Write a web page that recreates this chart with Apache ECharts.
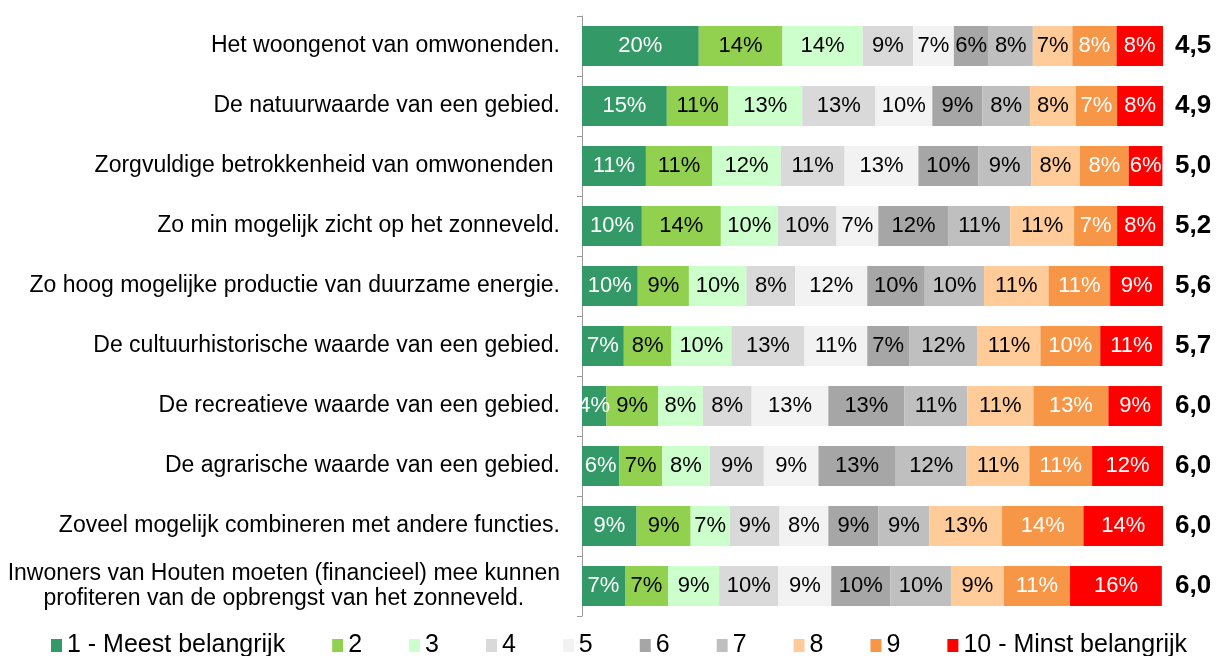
<!DOCTYPE html>
<html>
<head>
<meta charset="utf-8">
<title>Belang van aspecten zonneveld</title>
<script src="https://cdn.jsdelivr.net/npm/echarts@6/dist/echarts.min.js"></script>
<style>
    html, body { margin: 0; padding: 0; background: #fff; }
    #chart { width: 1217px; height: 656px; }
</style>
</head>
<body>
<div id="chart"></div>
<script>
    // stellingen (van boven naar beneden)
    const categories = [
        'Het woongenot van omwonenden.',
        'De natuurwaarde van een gebied.',
        'Zorgvuldige betrokkenheid van omwonenden ',
        'Zo min mogelijk zicht op het zonneveld.',
        'Zo hoog mogelijke productie van duurzame energie.',
        'De cultuurhistorische waarde van een gebied.',
        'De recreatieve waarde van een gebied.',
        'De agrarische waarde van een gebied.',
        'Zoveel mogelijk combineren met andere functies.',
        'Inwoners van Houten moeten (financieel) mee kunnen\nprofiteren van de opbrengst van het zonneveld.'
    ];
    // gemiddelde score
    const scores = ['4,5', '4,9', '5,0', '5,2', '5,6', '5,7', '6,0', '6,0', '6,0', '6,0'];

    const seriesNames = ['1 - Meest belangrijk', '2', '3', '4', '5', '6', '7', '8', '9', '10 - Minst belangrijk'];
    const colors = ['#339966', '#92D050', '#CCFFCC', '#D9D9D9', '#F2F2F2', '#A6A6A6', '#BFBFBF', '#FFCC99', '#F79646', '#FF0000'];
    const labelColors = ['#fff', '#000', '#000', '#000', '#000', '#000', '#000', '#000', '#fff', '#fff'];

    // percentages per score (1 t/m 10), per stelling
    const v1 = [20.1, 14.6, 11.0, 10.3, 9.6, 7.2, 4.2, 6.4, 9.4, 7.4];
    const v2 = [14.4, 10.6, 11.4, 13.6, 8.8, 8.2, 8.9, 7.4, 9.3, 7.4];
    const v3 = [13.8, 12.7, 11.8, 9.8, 9.9, 10.3, 7.7, 8.2, 6.7, 8.8];
    const v4 = [8.7, 12.6, 11.0, 10.1, 8.4, 12.6, 8.4, 9.3, 8.6, 10.2];
    const v5 = [7.0, 9.8, 12.7, 7.2, 12.4, 10.8, 13.2, 9.4, 8.4, 9.1];
    const v6 = [6.0, 8.6, 10.3, 12.1, 9.9, 7.2, 13.1, 13.3, 8.6, 10.2];
    const v7 = [7.6, 8.2, 9.1, 10.6, 10.2, 11.8, 10.8, 12.2, 8.8, 10.4];
    const v8 = [6.8, 7.9, 8.4, 11.0, 11.1, 10.8, 11.4, 10.8, 12.5, 9.1];
    const v9 = [7.6, 7.1, 8.4, 7.4, 10.6, 10.3, 12.9, 10.8, 14.0, 11.4];
    const v10 = [8.0, 7.9, 5.8, 7.9, 9.1, 10.7, 9.2, 12.2, 13.7, 15.8];
    const values = [v1, v2, v3, v4, v5, v6, v7, v8, v9, v10];

    const font = '"Liberation Sans", Arial, sans-serif';
    const chart = echarts.init(document.getElementById('chart'));

    const series = seriesNames.map(function (name, i) {
        return {
            name: name,
            type: 'bar',
            stack: 'totaal',
            barWidth: 40,
            data: values[i],
            itemStyle: { color: colors[i] },
            label: {
                show: true,
                position: 'inside',
                color: labelColors[i],
                fontFamily: font,
                fontSize: 22,
                formatter: function (p) {
                    return Math.round(p.value) + '%';
                }
            }
        };
    });

    chart.setOption({
        animation: false,
        textStyle: { fontFamily: font },
        grid: { left: 582, right: 54, top: 16, bottom: 40 },
        legend: {
            top: 633,
            left: 51,
            padding: 0,
            icon: 'rect',
            itemWidth: 11,
            itemHeight: 13,
            itemGap: 47,
            textStyle: { fontSize: 25, color: '#000', fontFamily: font },
            data: seriesNames
        },
        xAxis: {
            type: 'value',
            min: 0,
            max: 100,
            show: false
        },
        yAxis: [
            {
                type: 'category',
                inverse: true,
                data: categories,
                axisLine: { show: true, lineStyle: { color: '#999' } },
                axisTick: { show: true, length: 5, lineStyle: { color: '#999' } },
                axisLabel: {
                    margin: 22,
                    color: '#000',
                    fontSize: 23,
                    fontFamily: font,
                    formatter: function (v) {
                        return v.split('\n').map(function (l) { return '{c|' + l + '}'; }).join('\n');
                    },
                    rich: {
                        c: { align: 'center', fontSize: 23, lineHeight: 25, color: '#000', fontFamily: font }
                    }
                }
            },
            {
                type: 'category',
                inverse: true,
                position: 'right',
                data: scores,
                axisLine: { show: false },
                axisTick: { show: false },
                axisLabel: {
                    margin: 12,
                    color: '#000',
                    fontSize: 26,
                    fontWeight: 'bold',
                    fontFamily: font
                }
            }
        ],
        series: series
    });
</script>
</body>
</html>
